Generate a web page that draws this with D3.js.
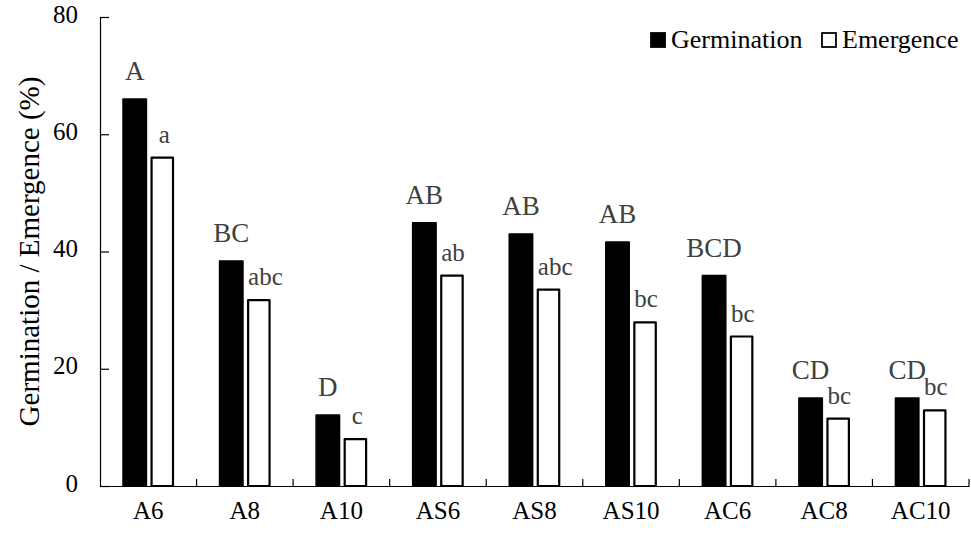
<!DOCTYPE html>
<html><head><meta charset="utf-8">
<script src="https://cdn.jsdelivr.net/npm/d3@7"></script>
<style>body{margin:0;background:#fff}svg{display:block}</style>
</head><body>
<svg id="chart" width="971" height="533"></svg>
<script>
const categories = ["A6","A8","A10","AS6","AS8","AS10","AC6","AC8","AC10"];
const germination = [66, 38.4, 12.1, 44.9, 43.0, 41.6, 35.9, 15.0, 15.0];
const emergence   = [56, 31.7, 8.0, 35.9, 33.5, 27.9, 25.5, 11.5, 12.9];
const germLetters = ["A","BC","D","AB","AB","AB","BCD","CD","CD"];
const emerLetters = ["a","abc","c","ab","abc","bc","bc","bc","bc"];
const seriesNames = ["Germination","Emergence"];
const yTicks = [0,20,40,60,80];

const svg = d3.select("#chart");
const m = {left:100, right:2, top:17, bottom:47};
const W = 971, H = 533;
const font = "'Liberation Serif','Times New Roman',serif";

const x = d3.scaleBand().domain(categories).range([m.left, W - m.right]).padding(0);
const xs = d3.scaleBand().domain(seriesNames).range([23, 74]).paddingInner(0.15);
const y = d3.scaleLinear().domain([0,80]).range([H - m.bottom, m.top]);

const data = categories.map((c,i)=>({c, g:germination[i], e:emergence[i], gl:germLetters[i], el:emerLetters[i]}));

// bars
const grp = svg.append("g").selectAll("g").data(data).join("g")
  .attr("transform", d=>`translate(${x(d.c)},0)`);
grp.append("rect")
  .attr("x", xs("Germination")).attr("width", xs.bandwidth())
  .attr("y", d=>y(d.g)).attr("height", d=>y(0)-y(d.g))
  .attr("fill","#000").attr("stroke","#000").attr("stroke-width",1.5).attr("stroke-linejoin","round");
grp.append("rect")
  .attr("x", xs("Emergence")+1).attr("width", xs.bandwidth()-2)
  .attr("y", d=>y(d.e)).attr("height", d=>y(0)-y(d.e))
  .attr("fill","#fff").attr("stroke","#000").attr("stroke-width",2.2).attr("stroke-linejoin","round");

// letters
grp.append("text")
  .attr("x", xs("Germination")+xs.bandwidth()/2)
  .attr("y", d=>y(d.g)-19)
  .attr("text-anchor","middle")
  .attr("font-family",font).attr("font-size",27).attr("fill","#404040")
  .text(d=>d.gl);
grp.append("text")
  .attr("x", d=> d.el.length>1 ? xs("Emergence")+1 : xs("Emergence")+xs.bandwidth()/2+2)
  .attr("y", d=>y(d.e)-15)
  .attr("text-anchor", d=> d.el.length>1 ? "start" : "middle")
  .attr("font-family",font).attr("font-size",25).attr("fill","#404040")
  .text(d=>d.el);

// y axis
const yAxis = svg.append("g").attr("transform",`translate(${m.left},0)`)
  .call(d3.axisLeft(y).tickValues(yTicks).tickSize(-9).tickPadding(22));
yAxis.attr("font-family",font);
yAxis.select(".domain").attr("stroke","#000").attr("stroke-width",1.2);
yAxis.selectAll(".tick line").attr("stroke","#000").attr("stroke-width",1.2);
yAxis.selectAll("text").attr("font-family",font).attr("font-size",25).attr("fill","#000").attr("dy","0.2em");

// x axis
const xAxis = svg.append("g").attr("transform",`translate(0,${H-m.bottom})`)
  .call(d3.axisBottom(x).tickSize(0).tickPadding(14));
xAxis.attr("font-family",font);
xAxis.select(".domain").attr("stroke","#000").attr("stroke-width",1.2);
xAxis.selectAll("text").attr("font-family",font).attr("font-size",25).attr("fill","#000").attr("dy","0.75em");
// boundary tick marks
svg.append("g").selectAll("line").data(categories).join("line")
  .attr("x1", d=>x(d)+x.bandwidth()).attr("x2", d=>x(d)+x.bandwidth())
  .attr("y1", y(0)).attr("y2", y(0)-7)
  .attr("stroke","#000").attr("stroke-width",1.2);

// y title
svg.append("text")
  .attr("transform",`translate(39,${(y(0)+y(80))/2}) rotate(-90)`)
  .attr("text-anchor","middle")
  .attr("font-family",font).attr("font-size",29).attr("fill","#000")
  .text("Germination / Emergence (%)");

// legend
const leg = svg.append("g");
const legItems = [{n:"Germination", fill:"#000", x:651},{n:"Emergence", fill:"#fff", x:822}];
leg.selectAll("rect").data(legItems).join("rect")
  .attr("x",d=>d.x).attr("y",33).attr("width",14).attr("height",14)
  .attr("fill",d=>d.fill).attr("stroke","#000").attr("stroke-width",1.8);
leg.selectAll("text").data(legItems).join("text")
  .attr("x",d=>d.x+20).attr("y",48)
  .attr("font-family",font).attr("font-size",26).attr("fill","#000")
  .text(d=>d.n);
</script>
</body></html>
